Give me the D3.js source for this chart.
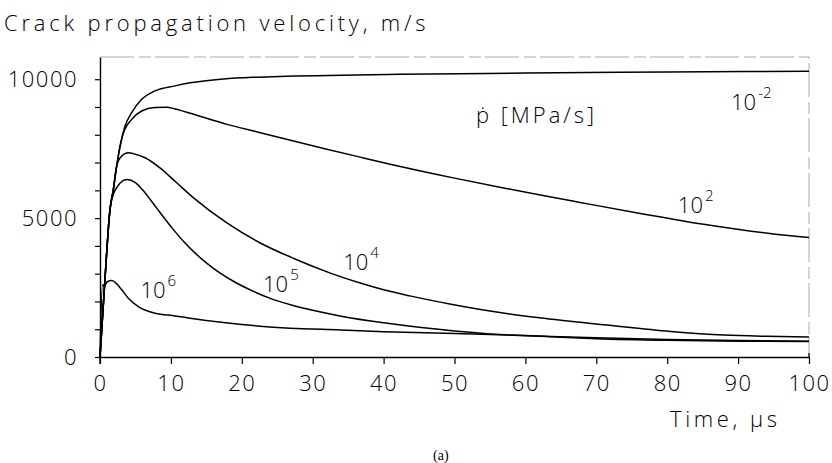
<!DOCTYPE html>
<html>
<head>
<meta charset="utf-8">
<script src="https://cdn.jsdelivr.net/npm/d3@7"></script>
<style>
  body { margin: 0; background: #fff; }
  text { font-family: "Open Sans", "DejaVu Sans", sans-serif; font-weight: 300; fill: #000; }
</style>
</head>
<body>
<div id="chart"></div>
<script>
// crack propagation velocity (m/s) vs time (µs), one curve per loading rate
const rate_m2 = [[0,0],[0.7,2800],[1.41,5307],[1.88,6029],[2.35,6870],[2.82,7592],[3.53,8314],[4.47,8798],[5.88,9278],[7.76,9578],[10.6,9760],[12.7,9870],[17.4,10010],[22.1,10075],[26.3,10108],[42.3,10180],[60,10220],[80,10260],[100,10290]];
const rate_2 = [[0,0],[0.7,2800],[1.41,5307],[1.88,6029],[2.35,6870],[2.82,7560],[3.24,8014],[4.47,8556],[5.88,8856],[7.76,8978],[9.4,8990],[10.6,8930],[13.2,8736],[17.9,8375],[22.6,8076],[27.3,7773],[32,7480],[36.7,7195],[41.4,6915],[50,6440],[56.4,6110],[62.1,5830],[67.7,5565],[76.2,5170],[85.6,4760],[95,4430],[100,4300]];
const rate_4 = [[0,0],[0.7,2800],[1.41,5307],[1.88,6029],[2.35,6870],[3.0,7220],[3.99,7354],[5.0,7300],[6.35,7173],[8.5,6800],[10.7,6300],[13.2,5729],[17.9,4827],[22.6,4105],[27.5,3530],[32.5,3020],[36.7,2661],[40,2419],[43.7,2200],[49.5,1900],[56.4,1600],[62,1410],[71.5,1150],[80.5,920],[88,790],[94,745],[100,720]];
const rate_5 = [[0,0],[0.7,2800],[1.41,5307],[1.65,5668],[2.5,6150],[3.77,6390],[5.0,6280],[6.0,6020],[7.0,5700],[8.0,5360],[9.0,5020],[10.5,4540],[12,4100],[13.5,3720],[15,3390],[17,3010],[19,2700],[21.5,2380],[24,2110],[27,1870],[30,1680],[34,1470],[40,1230],[45,1070],[50,940],[56.4,810],[63.5,730],[70,660],[80,600],[90,570],[100,555]];
const rate_6 = [[0,0],[0.35,2600],[0.6,2550],[1.0,2700],[1.65,2750],[2.3,2650],[3.06,2419],[4.0,2119],[5.4,1816],[7.76,1577],[10.6,1480],[12.7,1397],[17.4,1238],[22.1,1119],[26.8,1036],[33.9,975],[40,913],[50,850],[60,770],[70,690],[80,630],[90,590],[100,570]];

const xTicks = d3.range(0, 101, 10);
const yTicks = d3.range(0, 10001, 1000);
const yLabels = [0, 5000, 10000];

// curve labels: exponent of the rate, anchor in data coords
const curveLabels = [
  { exp: "-2", t: 89.0, v: 8900 },
  { exp: "2", t: 81.5, v: 5200 },
  { exp: "4", t: 34.3, v: 3150 },
  { exp: "5", t: 23.0, v: 2350 },
  { exp: "6", t: 5.7, v: 2130 }
];

const width = 832, height = 463;
const svg = d3.select("#chart").append("svg").attr("width", width).attr("height", height);
svg.append("rect").attr("width", width).attr("height", height).attr("fill", "#fff");

const x = d3.scaleLinear().domain([0, 100]).range([100, 809]);
const y = d3.scaleLinear().domain([0, 10800]).range([357, 57]);

// faint frame top / right
svg.append("path")
  .attr("d", `M${x(0)},${y(10800)}H${x(100)}V${y(0)}`)
  .attr("fill", "none")
  .attr("stroke", "#aaa")
  .attr("stroke-width", 1)
  .attr("stroke-dasharray", "34,5,12,4");

// x axis
const xAxis = d3.axisBottom(x).tickValues(xTicks).tickSizeInner(7).tickSizeOuter(0).tickPadding(11);
const gx = svg.append("g").attr("transform", `translate(0,${y(0)})`).call(xAxis);
gx.select(".domain").attr("stroke", "#000").attr("stroke-width", 1.4);
gx.selectAll(".tick line").attr("stroke", "#000").attr("stroke-width", 1.2);
gx.selectAll("text").style("font-size", "22px").style("letter-spacing", "1.5px").attr("fill", "#000");

// y axis
const yAxis = d3.axisLeft(y).tickValues(yTicks).tickSizeInner(5).tickSizeOuter(0).tickPadding(17)
  .tickFormat((d) => (yLabels.includes(d) ? d : ""));
const gy = svg.append("g").attr("transform", `translate(${x(0)},0)`).call(yAxis);
gy.select(".domain").attr("stroke", "#000").attr("stroke-width", 1.4);
gy.selectAll(".tick line").attr("stroke", "#000").attr("stroke-width", 1.2);
gy.selectAll("text").style("font-size", "22px").style("letter-spacing", "1.5px").attr("fill", "#000");

// axis line continues a little below the x axis, small mark at right end
svg.append("line").attr("x1", x(0)).attr("x2", x(0)).attr("y1", y(0)).attr("y2", y(0) + 7)
  .attr("stroke", "#000").attr("stroke-width", 1.4);
svg.append("line").attr("x1", x(100)).attr("x2", x(100)).attr("y1", y(0) - 4).attr("y2", y(0))
  .attr("stroke", "#000").attr("stroke-width", 1.2);

// curves
const line = d3.line()
  .x((d) => x(d[0]))
  .y((d) => y(d[1]))
  .curve(d3.curveMonotoneX);

[rate_m2, rate_2, rate_4, rate_5, rate_6].forEach((data) => {
  svg.append("path")
    .datum(data)
    .attr("fill", "none")
    .attr("stroke", "#000")
    .attr("stroke-width", 1.5)
    .attr("d", line);
});

// labels on curves
curveLabels.forEach((l) => {
  const t = svg.append("text")
    .attr("x", x(l.t))
    .attr("y", y(l.v))
    .style("font-size", "22px");
  t.append("tspan").text("10");
  t.append("tspan").attr("dx", 2).attr("dy", -12).style("font-size", "15px").text(l.exp);
});

// legend for the rate
svg.append("text")
  .attr("x", 476)
  .attr("y", 123)
  .style("font-size", "22px")
  .style("letter-spacing", "3px")
  .text("ṗ [MPa/s]");

// titles
svg.append("text")
  .attr("x", 4)
  .attr("y", 31)
  .style("font-size", "22px")
  .style("letter-spacing", "3.8px")
  .text("Crack propagation velocity, m/s");

svg.append("text")
  .attr("x", 670)
  .attr("y", 427)
  .style("font-size", "22px")
  .style("letter-spacing", "3.6px")
  .text("Time, µs");

svg.append("text")
  .attr("x", 433)
  .attr("y", 460)
  .style("font-family", "'Liberation Serif', serif")
  .style("font-weight", "400")
  .style("font-size", "14px")
  .text("(a)");
</script>
</body>
</html>
